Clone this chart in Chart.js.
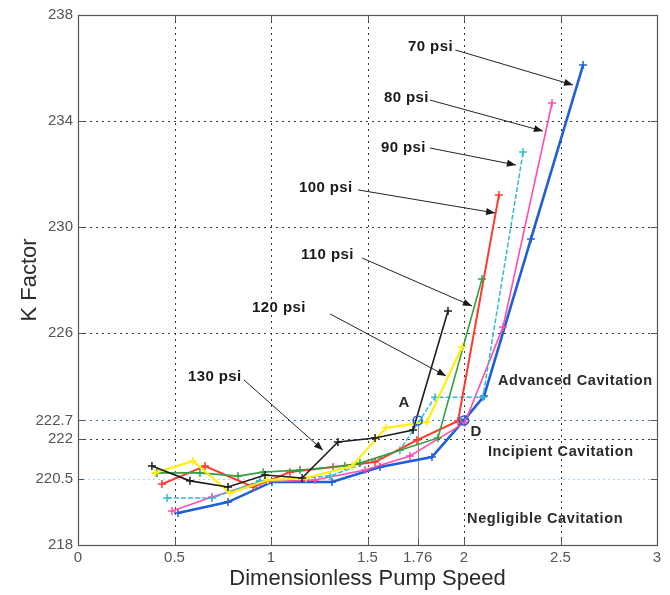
<!DOCTYPE html>
<html><head><meta charset="utf-8">
<script src="https://cdn.jsdelivr.net/npm/chart.js@4/dist/chart.umd.min.js"></script>
<style>html,body{margin:0;padding:0;background:#fff}#wrap{width:670px;height:595px}</style>
</head><body><div id="wrap"><canvas id="c" width="670" height="595"></canvas></div>
<script>
// ---- data ----
const xTicks = [0, 0.5, 1, 1.5, 1.76, 2, 2.5, 3];
const yTicks = [218, 220.5, 222, 222.7, 226, 230, 234, 238];

const speed70 = [0.518, 0.777, 1.005, 1.316, 1.565, 1.834, 2.005, 2.104, 2.347, 2.617];
const k70     = [219.21, 219.62, 220.38, 220.38, 220.94, 221.32, 222.75, 223.62, 229.55, 236.11];

const speed80 = [0.487, 0.694, 0.943, 1.228, 1.487, 1.720, 2.005, 2.202, 2.456];
const k80     = [219.28, 219.81, 220.38, 220.45, 220.83, 221.36, 222.62, 226.23, 234.68];

const speed90 = [0.461, 0.694, 0.943, 1.306, 1.668, 1.850, 2.098, 2.306];
const k90     = [219.77, 219.77, 220.42, 220.60, 221.58, 223.58, 223.58, 232.83];

const speed100 = [0.435, 0.658, 0.907, 1.098, 1.321, 1.539, 1.756, 1.969, 2.181];
const k100     = [220.30, 220.98, 220.19, 220.75, 220.94, 221.13, 221.96, 222.68, 231.21];

const speed110 = [0.409, 0.632, 0.829, 0.959, 1.150, 1.383, 1.461, 1.865, 2.093];
const k110     = [220.72, 220.72, 220.60, 220.75, 220.83, 220.98, 221.09, 222.04, 228.04];

const speed120 = [0.399, 0.596, 0.788, 0.984, 1.181, 1.420, 1.596, 1.808, 1.990];
const k120     = [220.72, 221.17, 219.96, 220.45, 220.53, 220.98, 222.42, 222.64, 225.47];

const speed130 = [0.383, 0.580, 0.777, 0.969, 1.161, 1.347, 1.539, 1.736, 1.917];
const k130     = [220.98, 220.42, 220.19, 220.64, 220.53, 221.89, 222.04, 222.34, 226.83];

const keyPointNames = ['A', 'D'];
const keySpeeds = [1.76, 2.0];
const keyK = [222.7, 222.7];

const seriesLabels = ['70 psi', '80 psi', '90 psi', '100 psi', '110 psi', '120 psi', '130 psi'];
const regionLabels = ['Advanced Cavitation', 'Incipient Cavitation', 'Negligible Cavitation'];

// ---- build datasets ----
function pts(xs, ys){ return xs.map((v,i)=>({x:v, y:ys[i]})); }
const seriesStyle = [
  {c:'#1f5fd8', w:2.6, dash:[]},
  {c:'#ff4fae', w:1.6, dash:[]},
  {c:'#33bcd3', w:1.5, dash:[5,2]},
  {c:'#ff3b2b', w:2.0, dash:[]},
  {c:'#33a043', w:1.6, dash:[]},
  {c:'#ffee10', w:2.2, dash:[]},
  {c:'#1e1e1e', w:1.6, dash:[]}
];
const seriesData = [pts(speed70,k70), pts(speed80,k80), pts(speed90,k90), pts(speed100,k100), pts(speed110,k110), pts(speed120,k120), pts(speed130,k130)];
const datasets = seriesData.map((d,i)=>({
  label: seriesLabels[i], data: d, showLine: true,
  borderColor: seriesStyle[i].c, backgroundColor: seriesStyle[i].c,
  borderWidth: seriesStyle[i].w, borderDash: seriesStyle[i].dash,
  pointStyle: 'cross', pointRadius: 4, pointBorderWidth: 1.5, pointBorderColor: seriesStyle[i].c,
  tension: 0, order: 7 - i
})).reverse();
datasets.push({
  label: 'key', data: pts(keySpeeds, keyK), showLine: false,
  pointStyle: 'circle', pointRadius: 4.5, pointBorderColor: '#1f5fd8', pointBackgroundColor: 'rgba(0,0,0,0)', pointBorderWidth: 1.6, order: 0
});

// annotation layout (data units)
const seriesLabelPos = [
  {tx:1.71, ty:236.8, ax1:1.955, ay1:236.68, ax2:2.565, ay2:235.36},
  {tx:1.585, ty:234.87, ax1:1.824, ay1:234.79, ax2:2.409, ay2:233.62},
  {tx:1.570, ty:232.98, ax1:1.824, ay1:232.98, ax2:2.269, ay2:232.34},
  {tx:1.145, ty:231.47, ax1:1.451, ay1:231.40, ax2:2.161, ay2:230.53},
  {tx:1.155, ty:228.94, ax1:1.472, ay1:228.83, ax2:2.041, ay2:227.02},
  {tx:0.902, ty:226.94, ax1:1.306, ay1:226.72, ax2:1.907, ay2:224.38},
  {tx:0.570, ty:224.34, ax1:0.860, ay1:224.23, ax2:1.269, ay2:221.58}
];
const regionPos = [{x:2.176, y:224.19}, {x:2.124, y:221.51}, {x:2.016, y:218.98}];
const keyLabelPos = [{x:1.689, y:223.36}, {x:2.062, y:222.26}];

const overlay = {
  id: 'overlay',
  beforeDatasetsDraw(chart){
    const {ctx, chartArea:a, scales:{x, y}} = chart;
    ctx.save();
    ctx.lineWidth = 1;
    ctx.setLineDash([2, 4]);
    xTicks.forEach(v=>{
      if (v===0 || v===3 || v===1.76) return;
      const px = Math.round(x.getPixelForValue(v)) + 0.5;
      ctx.strokeStyle = '#3a3a3a';
      ctx.beginPath(); ctx.moveTo(px, a.top); ctx.lineTo(px, a.bottom); ctx.stroke();
    });
    yTicks.forEach(v=>{
      if (v===218 || v===238) return;
      const py = Math.round(y.getPixelForValue(v)) + 0.5;
      ctx.strokeStyle = v===222.7 ? '#3f6fd8' : (v===220.5 ? '#a9d4f0' : '#3a3a3a');
      ctx.setLineDash(v===220.5 ? [2,3] : [2,4]);
      ctx.beginPath(); ctx.moveTo(a.left, py); ctx.lineTo(a.right, py); ctx.stroke();
    });
    ctx.setLineDash([]);
    ctx.strokeStyle = '#8a8a8a';
    const pxA = Math.round(x.getPixelForValue(keySpeeds[0])) + 0.5;
    ctx.beginPath(); ctx.moveTo(pxA, y.getPixelForValue(keyK[0])); ctx.lineTo(pxA, a.bottom); ctx.stroke();
    ctx.restore();
  },
  afterDatasetsDraw(chart){
    const {ctx, chartArea:a, scales:{x, y}} = chart;
    ctx.save();
    ctx.strokeStyle = '#555'; ctx.lineWidth = 1.2; ctx.setLineDash([]);
    ctx.strokeRect(Math.round(a.left)+0.5, Math.round(a.top)+0.5, Math.round(a.right-a.left), Math.round(a.bottom-a.top));
    ctx.lineWidth = 1;
    xTicks.forEach(v=>{
      const px = Math.round(x.getPixelForValue(v)) + 0.5;
      ctx.beginPath(); ctx.moveTo(px, a.bottom); ctx.lineTo(px, a.bottom-6); ctx.stroke();
      if (v!==1.76){ ctx.beginPath(); ctx.moveTo(px, a.top); ctx.lineTo(px, a.top+6); ctx.stroke(); }
    });
    yTicks.forEach(v=>{
      const py = Math.round(y.getPixelForValue(v)) + 0.5;
      ctx.beginPath(); ctx.moveTo(a.left, py); ctx.lineTo(a.left+6, py); ctx.stroke();
      ctx.beginPath(); ctx.moveTo(a.right, py); ctx.lineTo(a.right-6, py); ctx.stroke();
    });
    ctx.fillStyle = '#1a1a1a'; ctx.strokeStyle = '#222';
    ctx.font = 'bold 15px "Liberation Sans", Arial, sans-serif';
    try { ctx.letterSpacing = '0.4px'; } catch(e) {}
    ctx.textBaseline = 'middle'; ctx.textAlign = 'left';
    seriesLabelPos.forEach((p,i)=>{
      ctx.fillText(seriesLabels[i], x.getPixelForValue(p.tx), y.getPixelForValue(p.ty));
      const x1 = x.getPixelForValue(p.ax1), y1 = y.getPixelForValue(p.ay1);
      const x2 = x.getPixelForValue(p.ax2), y2 = y.getPixelForValue(p.ay2);
      ctx.lineWidth = 1;
      ctx.beginPath(); ctx.moveTo(x1, y1); ctx.lineTo(x2, y2); ctx.stroke();
      const ang = Math.atan2(y2-y1, x2-x1), L = 9, W = 3.5;
      ctx.beginPath();
      ctx.moveTo(x2, y2);
      ctx.lineTo(x2 - L*Math.cos(ang) + W*Math.sin(ang), y2 - L*Math.sin(ang) - W*Math.cos(ang));
      ctx.lineTo(x2 - L*Math.cos(ang) - W*Math.sin(ang), y2 - L*Math.sin(ang) + W*Math.cos(ang));
      ctx.closePath(); ctx.fill();
    });
    ctx.font = 'bold 14.5px "Liberation Sans", Arial, sans-serif';
    try { ctx.letterSpacing = '0.6px'; } catch(e) {}
    ctx.fillStyle = '#2a2a2a';
    regionPos.forEach((p,i)=>{ ctx.fillText(regionLabels[i], x.getPixelForValue(p.x), y.getPixelForValue(p.y)); });
    try { ctx.letterSpacing = '0px'; } catch(e) {}
    ctx.font = 'bold 15px "Liberation Sans", Arial, sans-serif';
    ctx.textAlign = 'center';
    keyLabelPos.forEach((p,i)=>{ ctx.fillText(keyPointNames[i], x.getPixelForValue(p.x), y.getPixelForValue(p.y)); });
    ctx.restore();
  }
};

new Chart(document.getElementById('c'), {
  type: 'scatter',
  data: { datasets },
  options: {
    responsive: false, animation: false, devicePixelRatio: 1,
    layout: { padding: { left: 0, right: 13, top: 15, bottom: 0 } },
    plugins: { legend: { display: false }, tooltip: { enabled: false } },
    scales: {
      x: {
        type: 'linear', min: 0, max: 3,
        afterBuildTicks: s => { s.ticks = xTicks.map(v=>({value:v})); },
        afterFit: s => { s.height = 50; },
        grid: { display: false, drawTicks: false }, border: { display: false },
        ticks: { autoSkip: false, maxRotation: 0, padding: 4, color: '#555',
          font: { family: '"Liberation Sans", Arial, sans-serif', size: 15 },
          callback: v => String(v) },
        title: { display: true, text: 'Dimensionless Pump Speed', color: '#2a2a2a',
          font: { family: '"Liberation Sans", Arial, sans-serif', size: 22 }, padding: { top: 0, bottom: 3 } }
      },
      y: {
        type: 'linear', min: 218, max: 238,
        afterBuildTicks: s => { s.ticks = yTicks.map(v=>({value:v})); },
        afterFit: s => { s.width = 78; },
        grid: { display: false, drawTicks: false }, border: { display: false },
        ticks: { autoSkip: false, padding: 5, color: '#555',
          font: { family: '"Liberation Sans", Arial, sans-serif', size: 15 },
          callback: v => String(v) },
        title: { display: true, text: 'K Factor', color: '#2a2a2a',
          font: { family: '"Liberation Sans", Arial, sans-serif', size: 22 }, padding: { top: 17, bottom: 0 } }
      }
    }
  },
  plugins: [overlay]
});
</script>
</body></html>
